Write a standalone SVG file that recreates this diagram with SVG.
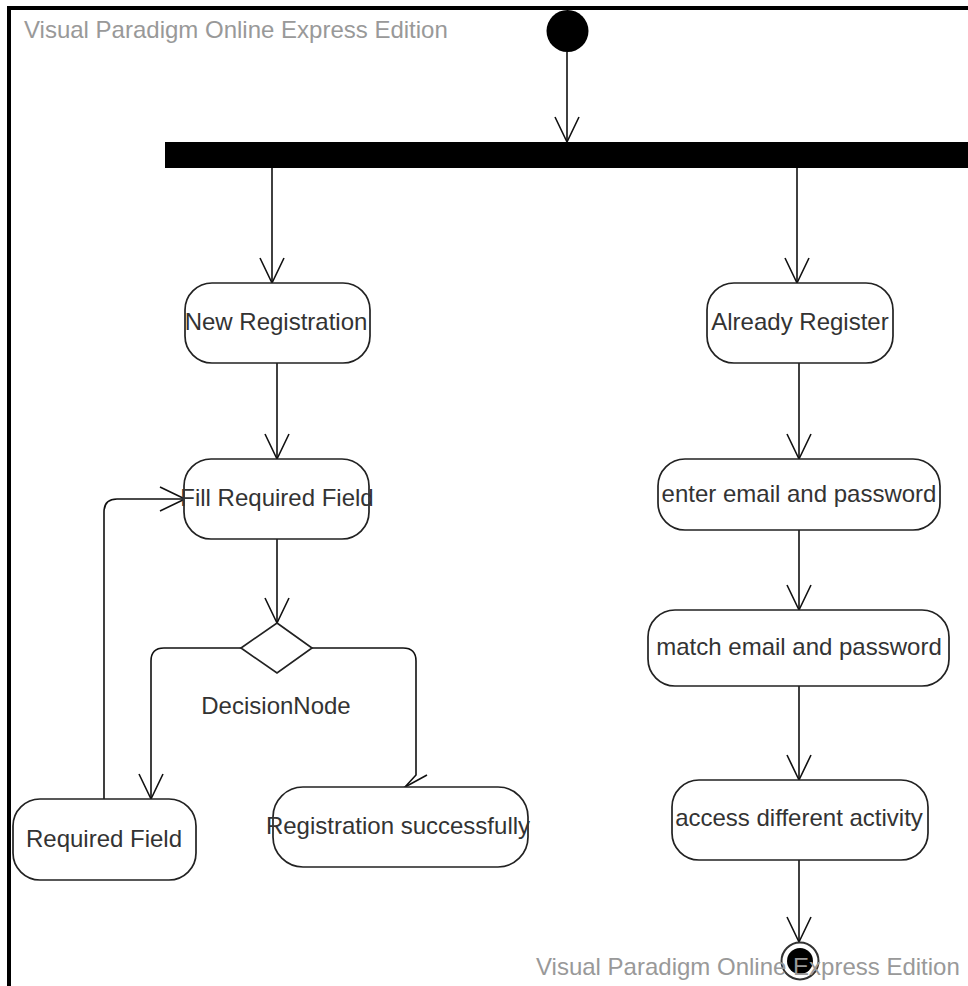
<svg xmlns="http://www.w3.org/2000/svg" width="968" height="986" viewBox="0 0 968 986">
<defs>
<marker id="arr" markerUnits="userSpaceOnUse" markerWidth="30" markerHeight="30" viewBox="-27 -14 30 28" refX="0" refY="0" orient="auto">
<path d="M-25,-12 L0,0 L-25,12" fill="none" stroke="#111" stroke-width="1.6"/>
</marker>
</defs>
<style>
.box{fill:#fff;stroke:#222;stroke-width:1.7}
.lbl{font-family:"Liberation Sans",Arial,sans-serif;font-size:24px;fill:#333;text-anchor:middle}
.wm{font-family:"Liberation Sans",Arial,sans-serif;font-size:24px;fill:#999}
.ln{fill:none;stroke:#111;stroke-width:1.6}
</style>
<rect x="0" y="0" width="968" height="986" fill="#fff"/>
<rect x="9" y="8" width="1000" height="1000" fill="none" stroke="#000" stroke-width="4"/>
<text class="wm" x="24" y="38">Visual Paradigm Online Express Edition</text>

<g id="connectors">
<line class="ln" x1="567" y1="52" x2="567" y2="142" marker-end="url(#arr)"/>
<line class="ln" x1="272" y1="168" x2="272" y2="283" marker-end="url(#arr)"/>
<line class="ln" x1="797" y1="168" x2="797" y2="283" marker-end="url(#arr)"/>
<line class="ln" x1="277" y1="363" x2="277" y2="459" marker-end="url(#arr)"/>
<line class="ln" x1="277" y1="539" x2="277" y2="623" marker-end="url(#arr)"/>
<path class="ln" d="M241,648 H164 Q151,648 151,661 V799" marker-end="url(#arr)"/>
<path class="ln" d="M312,648 H403 Q416,648 416,661 V775 L405,787"/>
<polyline class="ln" points="427,775 405,787 427,799"/>
<path class="ln" d="M104,799 V512 Q104,499 117,499 H185" marker-end="url(#arr)"/>
<line class="ln" x1="799" y1="363" x2="799" y2="459" marker-end="url(#arr)"/>
<line class="ln" x1="799" y1="530" x2="799" y2="610" marker-end="url(#arr)"/>
<line class="ln" x1="799" y1="686" x2="799" y2="780" marker-end="url(#arr)"/>
<line class="ln" x1="799" y1="860" x2="799" y2="942" marker-end="url(#arr)"/>
</g>

<g id="start"><circle cx="567.5" cy="31" r="21" fill="#000"/></g>
<g id="fork"><rect x="165" y="142" width="810" height="26" fill="#000"/></g>

<g id="new-registration">
<rect class="box" x="185" y="283" width="185" height="80" rx="27" ry="27"/>
<text class="lbl" x="276" y="330">New Registration</text>
</g>
<g id="already-register">
<rect class="box" x="707" y="283" width="186" height="80" rx="27" ry="27"/>
<text class="lbl" x="800" y="330">Already Register</text>
</g>
<g id="fill-required-field">
<rect class="box" x="184" y="459" width="185" height="80" rx="27" ry="27"/>
<text class="lbl" x="277" y="506">Fill Required Field</text>
</g>
<g id="decision">
<polygon points="277,623 312,648 277,673 241,648" fill="#fff" stroke="#222" stroke-width="1.7"/>
<text class="lbl" x="276" y="714">DecisionNode</text>
</g>
<g id="required-field">
<rect class="box" x="13" y="799" width="183" height="81" rx="27" ry="27"/>
<text class="lbl" x="104" y="847">Required Field</text>
</g>
<g id="registration-successfully">
<rect class="box" x="273" y="787" width="255" height="80" rx="30" ry="30"/>
<text class="lbl" x="398" y="834">Registration successfully</text>
</g>
<g id="enter-email">
<rect class="box" x="658" y="459" width="282" height="71" rx="27" ry="27"/>
<text class="lbl" x="799" y="502">enter email and password</text>
</g>
<g id="match-email">
<rect class="box" x="648" y="610" width="301" height="76" rx="27" ry="27"/>
<text class="lbl" x="799" y="655">match email and password</text>
</g>
<g id="access-activity">
<rect class="box" x="672" y="780" width="256" height="80" rx="27" ry="27"/>
<text class="lbl" x="799" y="826">access different activity</text>
</g>
<g id="final">
<circle cx="800" cy="961" r="18.5" fill="#fff" stroke="#333" stroke-width="2"/>
<circle cx="800" cy="961" r="13" fill="#000"/>
</g>
<text class="wm" x="536" y="975">Visual Paradigm Online Express Edition</text>
</svg>
